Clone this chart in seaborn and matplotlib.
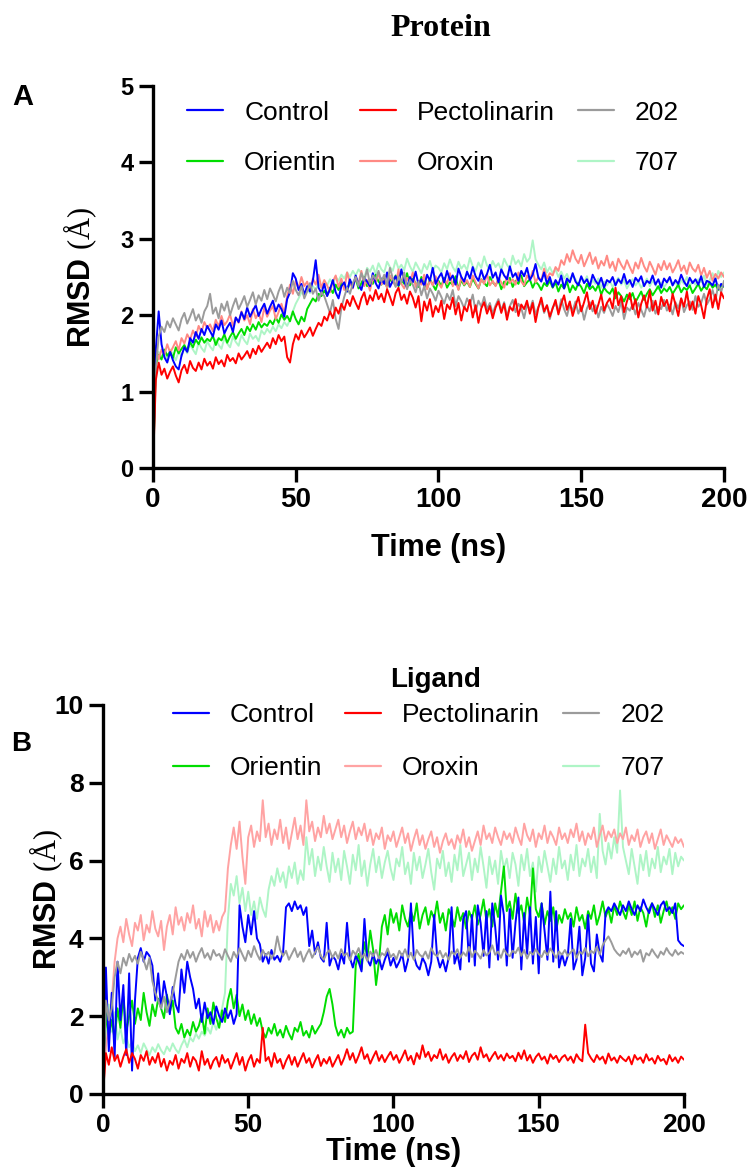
import numpy as np
import pandas as pd
import matplotlib
matplotlib.use("Agg")
import matplotlib.pyplot as plt
from matplotlib.lines import Line2D
from matplotlib import font_manager
import seaborn as sns

sns.set_style("ticks")
plt.rcParams["font.family"] = ["Liberation Sans", "DejaVu Sans"]
plt.rcParams["mathtext.fontset"] = "custom"
plt.rcParams["mathtext.rm"] = "Liberation Serif"
for key in ["text.color", "axes.labelcolor", "xtick.color", "ytick.color", "axes.edgecolor"]:
    plt.rcParams[key] = "black"

# condensed bold for numbers/axis titles if the narrow face is installed
installed = {f.name for f in font_manager.fontManager.ttflist}
HAS_NARROW = "Liberation Sans Narrow" in installed
NUM_FONT = ["Liberation Sans Narrow", "Liberation Sans"] if HAS_NARROW else ["Liberation Sans"]
SCALE = 1.15 if HAS_NARROW else 1.0

# time axis, one frame per ns
time_ns = list(range(0, 201))

# ---------------- Protein RMSD (A) ----------------
prot_control = [
    0, 1.55, 2.05, 1.62, 1.45, 1.38, 1.52, 1.41, 1.33, 1.29, 1.47, 1.58, 1.52, 1.70, 1.64, 1.78, 1.69, 1.82, 1.74, 1.86,
    1.79, 1.72, 1.88, 1.81, 1.93, 1.76, 1.84, 1.90, 1.78, 1.97, 1.91, 2.04, 1.95, 2.10, 1.98, 2.06, 2.13, 1.99, 2.08, 2.15,
    2.02, 2.11, 2.19, 2.05, 2.14, 2.08, 1.98, 2.21, 2.30, 2.55, 2.48, 2.33, 2.41, 2.27, 2.38, 2.31, 2.45, 2.72, 2.36, 2.29,
    2.41, 2.25, 2.34, 2.46, 2.30, 2.22, 2.38, 2.43, 2.31, 2.47, 2.36, 2.52, 2.40, 2.33, 2.49, 2.44, 2.38, 2.55, 2.42, 2.35,
    2.48, 2.41, 2.56, 2.37, 2.45, 2.51, 2.39, 2.60, 2.44, 2.36, 2.50, 2.43, 2.57, 2.40, 2.47, 2.38, 2.53, 2.45, 2.62, 2.41,
    2.49, 2.55, 2.43, 2.58, 2.46, 2.52, 2.40, 2.61, 2.50, 2.44, 2.57, 2.48, 2.63, 2.51, 2.45, 2.59, 2.47, 2.54, 2.66, 2.49,
    2.56, 2.43, 2.60, 2.52, 2.47, 2.64, 2.50, 2.55, 2.45, 2.58, 2.51, 2.62, 2.46, 2.53, 2.67, 2.49, 2.44, 2.56, 2.41, 2.50,
    2.37, 2.46, 2.40, 2.52, 2.35, 2.48, 2.43, 2.55, 2.44, 2.39, 2.51, 2.42, 2.47, 2.38, 2.53, 2.45, 2.40, 2.49, 2.36, 2.46,
    2.43, 2.50, 2.39, 2.47, 2.42, 2.54, 2.41, 2.46, 2.37, 2.49, 2.44, 2.51, 2.38, 2.45, 2.42, 2.52, 2.40, 2.47, 2.36, 2.48,
    2.43, 2.50, 2.39, 2.46, 2.41, 2.53, 2.44, 2.38, 2.49, 2.42, 2.47, 2.40, 2.51, 2.37, 2.45, 2.43, 2.39, 2.48, 2.34, 2.41,
    2.38]
prot_pectolinarin = [
    0, 1.15, 1.38, 1.22, 1.30, 1.17, 1.26, 1.33, 1.21, 1.12, 1.28, 1.35, 1.24, 1.40, 1.31, 1.27, 1.38, 1.29, 1.43, 1.34,
    1.39, 1.30, 1.45, 1.36, 1.41, 1.33, 1.48, 1.40, 1.44, 1.37, 1.50, 1.42, 1.47, 1.53, 1.44, 1.56, 1.49, 1.60, 1.52, 1.58,
    1.64, 1.57, 1.70, 1.62, 1.74, 1.66, 1.72, 1.45, 1.38, 1.62, 1.75, 1.68, 1.80, 1.71, 1.77, 1.84, 1.73, 1.82, 1.90, 1.86,
    1.98, 1.93, 2.05, 1.96, 2.10, 2.02, 2.15, 2.07, 2.20, 2.12, 2.25, 2.16, 2.08, 2.22, 2.30, 2.14, 2.26, 2.19, 2.33, 2.21,
    2.28, 2.17, 2.34, 2.24, 2.13, 2.29, 2.36, 2.20, 2.27, 2.15, 2.31, 2.23, 2.10, 2.25, 1.92, 2.18, 2.06, 2.21, 1.98, 2.12,
    2.04, 2.19, 1.95, 2.14, 2.08, 2.23, 2.01, 2.16, 1.93, 2.11, 2.05, 2.20, 1.97, 2.13, 1.90, 2.09, 2.17, 2.02, 2.12, 1.96,
    2.10, 2.18, 2.03, 2.15, 1.94, 2.11, 2.06, 2.21, 1.99, 2.14, 2.08, 2.19, 2.02, 2.16, 1.91, 2.10, 2.23, 2.05, 2.13, 1.98,
    2.09, 2.20, 2.01, 2.15, 2.26, 2.07, 2.18, 1.99, 2.12, 2.24, 2.05, 2.17, 2.30, 2.08, 2.19, 2.02, 2.14, 2.27, 2.06, 2.16,
    2.22, 2.09, 2.36, 2.13, 2.25, 2.04, 2.18, 2.29, 2.08, 2.21, 1.97, 2.15, 2.26, 2.10, 2.32, 2.06, 2.19, 2.01, 2.24, 2.12,
    2.20, 2.05, 2.28, 2.14, 1.99, 2.22, 2.11, 2.31, 2.07, 2.18, 2.02, 2.25, 2.13, 1.96, 2.21, 2.34, 2.10, 2.27, 2.08, 2.30,
    2.22]
prot_202 = [
    0, 1.30, 1.72, 1.85, 1.78, 1.92, 1.84, 1.96, 1.88, 1.80, 1.95, 2.03, 1.89, 1.98, 2.08, 1.93, 2.01, 1.90, 2.05, 2.12,
    2.28, 2.02, 2.10, 1.96, 2.15, 2.06, 2.18, 2.00, 2.12, 2.22, 2.08, 2.16, 2.25, 2.11, 2.20, 2.30, 2.14, 2.26, 2.19, 2.33,
    2.21, 2.35, 2.27, 2.18, 2.31, 2.40, 2.24, 2.36, 2.29, 2.45, 2.33, 2.26, 2.38, 2.22, 2.31, 2.42, 2.28, 2.35, 2.19, 2.30,
    2.25, 2.14, 2.03, 2.20, 1.95, 1.82, 2.10, 2.24, 2.36, 2.28, 2.42, 2.50, 2.38, 2.55, 2.45, 2.60, 2.41, 2.52, 2.47, 2.58,
    2.44, 2.53, 2.39, 2.62, 2.48, 2.37, 2.51, 2.43, 2.56, 2.34, 2.46, 2.40, 2.30, 2.44, 2.26, 2.38, 2.22, 2.35, 2.28, 2.19,
    2.32, 2.24, 2.15, 2.28, 2.20, 2.33, 2.12, 2.25, 2.18, 2.09, 2.22, 2.14, 2.27, 2.05, 2.19, 2.11, 2.24, 2.08, 2.16, 2.02,
    2.13, 2.21, 2.06, 2.17, 1.98, 2.12, 2.20, 2.04, 2.15, 2.09, 1.96, 2.14, 2.07, 2.19, 2.01, 2.11, 2.18, 2.03, 2.13, 1.95,
    2.10, 2.16, 2.04, 2.21, 2.08, 1.99, 2.14, 2.06, 2.18, 2.02, 2.12, 1.94, 2.09, 2.17, 2.05, 2.13, 1.97, 2.11, 2.03, 2.15,
    2.08, 1.99, 2.12, 2.04, 2.18, 1.95, 2.10, 2.06, 2.14, 2.01, 2.16, 2.07, 1.98, 2.13, 2.05, 2.19, 2.02, 2.11, 2.08, 2.20,
    2.06, 2.14, 2.01, 2.17, 2.09, 2.22, 2.04, 2.13, 2.18, 2.07, 2.25, 2.11, 2.16, 2.28, 2.14, 2.21, 2.33, 2.19, 2.40, 2.30,
    2.45]
prot_orientin = [
    0, 1.35, 1.48, 1.42, 1.55, 1.47, 1.52, 1.44, 1.58, 1.50, 1.56, 1.61, 1.53, 1.65, 1.58, 1.68, 1.62, 1.71, 1.64, 1.69,
    1.66, 1.73, 1.61, 1.70, 1.67, 1.75, 1.64, 1.72, 1.78, 1.69, 1.76, 1.82, 1.74, 1.85, 1.79, 1.88, 1.81, 1.91, 1.84, 1.89,
    1.86, 1.93, 1.88, 1.97, 1.90, 2.01, 1.94, 1.99, 1.92, 2.05, 1.95, 1.88, 1.98, 1.92, 2.08, 2.15, 2.22, 2.18, 2.28, 2.25,
    2.32, 2.26, 2.36, 2.29, 2.40, 2.33, 2.43, 2.37, 2.31, 2.45, 2.39, 2.48, 2.35, 2.42, 2.50, 2.38, 2.46, 2.41, 2.53, 2.44,
    2.40, 2.49, 2.36, 2.47, 2.43, 2.52, 2.38, 2.46, 2.41, 2.55, 2.39, 2.48, 2.42, 2.37, 2.50, 2.44, 2.35, 2.47, 2.40, 2.33,
    2.45, 2.38, 2.49, 2.36, 2.43, 2.40, 2.51, 2.34, 2.46, 2.39, 2.44, 2.37, 2.48, 2.41, 2.35, 2.47, 2.42, 2.38, 2.50, 2.43,
    2.39, 2.46, 2.34, 2.44, 2.40, 2.49, 2.37, 2.45, 2.41, 2.52, 2.38, 2.43, 2.47, 2.36, 2.44, 2.40, 2.33, 2.42, 2.38, 2.45,
    2.36, 2.43, 2.31, 2.40, 2.35, 2.44, 2.30, 2.39, 2.33, 2.42, 2.37, 2.29, 2.41, 2.34, 2.38, 2.32, 2.40, 2.27, 2.36, 2.31,
    2.28, 2.35, 2.22, 2.30, 2.25, 2.18, 2.27, 2.21, 2.29, 2.17, 2.24, 2.31, 2.20, 2.28, 2.34, 2.26, 2.32, 2.38, 2.29, 2.35,
    2.31, 2.37, 2.28, 2.34, 2.40, 2.30, 2.36, 2.33, 2.39, 2.29, 2.35, 2.41, 2.32, 2.38, 2.34, 2.43, 2.36, 2.40, 2.33, 2.39,
    2.37]
prot_oroxin = [
    0, 1.60, 1.42, 1.55, 1.48, 1.62, 1.51, 1.58, 1.66, 1.54, 1.70, 1.63, 1.75, 1.68, 1.80, 1.72, 1.86, 1.78, 1.91, 1.83,
    1.88, 1.79, 1.94, 1.85, 1.99, 1.87, 1.92, 2.01, 1.86, 1.97, 1.90, 2.05, 1.93, 2.00, 1.88, 2.08, 1.96, 2.03, 1.91, 2.10,
    1.98, 2.06, 2.12, 1.95, 2.04, 2.15, 2.02, 2.25, 2.40, 2.28, 2.45, 2.35, 2.50, 2.38, 2.44, 2.32, 2.48, 2.40, 2.53, 2.36,
    2.46, 2.39, 2.30, 2.44, 2.52, 2.37, 2.48, 2.33, 2.56, 2.42, 2.35, 2.50, 2.41, 2.58, 2.38, 2.46, 2.32, 2.49, 2.43, 2.55,
    2.40, 2.47, 2.36, 2.52, 2.44, 2.38, 2.60, 2.41, 2.35, 2.49, 2.43, 2.56, 2.37, 2.45, 2.40, 2.53, 2.34, 2.46, 2.39, 2.51,
    2.42, 2.36, 2.48, 2.41, 2.55, 2.38, 2.44, 2.33, 2.50, 2.40, 2.46, 2.37, 2.52, 2.43, 2.35, 2.47, 2.41, 2.54, 2.39, 2.45,
    2.38, 2.49, 2.43, 2.36, 2.51, 2.42, 2.47, 2.40, 2.56, 2.44, 2.39, 2.52, 2.46, 2.58, 2.43, 2.50, 2.45, 2.61, 2.48, 2.55,
    2.52, 2.63, 2.58, 2.72, 2.66, 2.80, 2.70, 2.85, 2.74, 2.68, 2.79, 2.64, 2.73, 2.82, 2.67, 2.76, 2.61, 2.71, 2.65, 2.78,
    2.62, 2.70, 2.58, 2.74, 2.66, 2.60, 2.72, 2.63, 2.55, 2.69, 2.61, 2.75, 2.64, 2.57, 2.70, 2.62, 2.53, 2.67, 2.59, 2.71,
    2.60, 2.68, 2.56, 2.63, 2.72, 2.58, 2.65, 2.54, 2.69, 2.61, 2.57, 2.66, 2.52, 2.62, 2.49, 2.58, 2.45, 2.54, 2.48, 2.56,
    2.50]
prot_707 = [
    0, 1.40, 1.52, 1.45, 1.50, 1.43, 1.55, 1.48, 1.41, 1.53, 1.46, 1.58, 1.50, 1.62, 1.55, 1.49, 1.64, 1.57, 1.52, 1.66,
    1.59, 1.54, 1.68, 1.61, 1.56, 1.70, 1.63, 1.58, 1.72, 1.65, 1.60, 1.74, 1.67, 1.62, 1.76, 1.69, 1.73, 1.66, 1.80, 1.75,
    1.82, 1.77, 1.85, 1.79, 1.88, 1.83, 1.91, 1.86, 1.94, 2.05, 2.15, 2.22, 2.30, 2.26, 2.35, 2.29, 2.38, 2.33, 2.42, 2.36,
    2.44, 2.39, 2.47, 2.41, 2.50, 2.45, 2.53, 2.48, 2.56, 2.50, 2.58, 2.52, 2.60, 2.55, 2.49, 2.62, 2.57, 2.65, 2.54, 2.68,
    2.60, 2.56, 2.70, 2.63, 2.58, 2.72, 2.61, 2.66, 2.59, 2.74, 2.64, 2.57, 2.69, 2.62, 2.55, 2.67, 2.60, 2.71, 2.58, 2.65,
    2.62, 2.56, 2.68, 2.60, 2.73, 2.63, 2.57, 2.70, 2.61, 2.66, 2.59, 2.75, 2.64, 2.58, 2.69, 2.62, 2.77, 2.65, 2.60, 2.71,
    2.63, 2.68, 2.59, 2.74, 2.66, 2.61, 2.78, 2.67, 2.72, 2.64, 2.80, 2.70, 2.75, 2.98, 2.73, 2.66, 2.60, 2.69, 2.56, 2.63,
    2.55, 2.60, 2.50, 2.57, 2.48, 2.54, 2.45, 2.52, 2.47, 2.40, 2.49, 2.43, 2.51, 2.38, 2.46, 2.41, 2.48, 2.36, 2.44, 2.39,
    2.45, 2.37, 2.43, 2.49, 2.40, 2.46, 2.35, 2.42, 2.47, 2.39, 2.44, 2.36, 2.41, 2.48, 2.38, 2.45, 2.40, 2.34, 2.43, 2.37,
    2.42, 2.48, 2.39, 2.44, 2.36, 2.46, 2.41, 2.50, 2.38, 2.45, 2.40, 2.47, 2.43, 2.52, 2.39, 2.46, 2.55, 2.44, 2.58, 2.50,
    2.56]

# ---------------- Ligand RMSD (B) ----------------
lig_control = [
    0, 3.25, 1.10, 2.60, 0.95, 3.40, 1.90, 2.80, 1.00, 3.10, 0.60, 2.40, 3.50, 3.75, 3.40, 3.65, 3.55, 3.30, 2.40, 3.10,
    2.20, 2.90, 2.50, 2.05, 2.75, 2.30, 2.10, 3.20, 2.60, 3.40, 3.00, 2.70, 2.20, 2.45, 1.85, 2.35, 1.95, 2.10, 1.80, 2.25,
    2.00, 1.85, 2.20, 1.95, 2.15, 1.80, 2.05, 4.85, 4.30, 3.90, 4.60, 4.10, 4.70, 4.00, 3.85, 3.40, 3.60, 3.35, 3.70, 3.45,
    3.55, 3.40, 3.65, 4.80, 4.90, 4.70, 4.95, 4.75, 4.85, 4.60, 4.80, 3.80, 4.20, 3.60, 3.90, 3.50, 3.40, 4.40, 3.30, 3.55,
    3.45, 3.20, 3.60, 3.35, 4.40, 3.50, 3.25, 3.55, 3.40, 3.15, 4.50, 3.45, 3.30, 3.60, 3.35, 3.50, 3.20, 3.45, 3.65, 3.30,
    3.50, 3.25, 3.40, 3.60, 3.15, 3.45, 4.90, 3.55, 3.30, 3.20, 3.50, 3.35, 3.05, 3.40, 4.60, 3.55, 3.25, 3.45, 3.15, 3.50,
    4.80, 3.35, 3.60, 3.20, 4.50, 4.70, 3.40, 4.60, 3.30, 4.85, 4.40, 3.55, 4.70, 3.25, 4.90, 4.30, 3.45, 5.10, 4.60, 3.30,
    4.75, 3.50, 4.40, 5.05, 3.20, 4.65, 3.60, 4.80, 3.35, 4.55, 3.10, 4.90, 4.20, 3.45, 5.20, 3.40, 4.70, 3.25, 3.60, 3.30,
    3.55, 4.50, 3.20, 3.45, 4.30, 3.05, 3.50, 4.60, 3.35, 3.15, 4.10, 3.60, 3.40, 4.65, 4.80, 4.70, 4.90, 4.75, 4.60, 4.85,
    4.70, 4.95, 4.75, 4.60, 4.85, 4.70, 5.00, 4.80, 4.65, 4.90, 4.75, 4.60, 4.85, 4.95, 4.70, 4.80, 4.65, 4.90, 3.95, 3.85,
    3.80]
lig_pectolinarin = [
    0, 1.05, 0.75, 1.20, 0.85, 1.00, 0.70, 0.95, 1.15, 0.80, 1.05, 0.90, 0.65, 1.00, 0.85, 1.10, 0.75, 0.95, 0.80, 1.05,
    0.70, 0.90, 0.60, 0.85, 0.75, 1.00, 0.65, 0.90, 0.80, 1.05, 0.70, 0.95, 0.85, 0.60, 1.10, 0.75, 0.90, 0.65, 0.85, 0.95,
    0.70, 1.00, 0.80, 0.90, 0.65, 0.85, 1.05, 0.75, 0.95, 0.60, 0.85, 1.00, 0.70, 0.90, 0.80, 1.70, 0.85, 0.95, 0.70, 1.05,
    0.80, 0.90, 0.65, 0.85, 1.00, 0.75, 0.95, 0.70, 0.88, 1.05, 0.80, 0.92, 0.68, 0.85, 1.00, 0.72, 0.90, 0.78, 0.95, 0.70,
    0.85, 1.00, 0.75, 0.92, 1.15, 0.88, 1.05, 0.80, 0.98, 1.20, 0.90, 1.02, 0.78, 0.95, 1.10, 0.85, 1.00, 0.82, 0.96, 1.08,
    0.88, 1.00, 0.80, 0.95, 1.12, 0.86, 0.98, 0.76, 1.05, 0.90, 1.25, 0.95, 1.08, 0.85, 1.00, 0.92, 1.15, 0.88, 1.02, 0.80,
    0.95, 1.05, 0.85, 1.00, 0.90, 1.10, 0.82, 0.98, 1.06, 0.88, 1.20, 0.94, 1.02, 0.84, 0.97, 1.08, 0.90, 1.00, 0.86, 1.04,
    0.92, 0.98, 0.84, 1.06, 0.90, 1.12, 0.86, 1.00, 0.80, 0.95, 1.04, 0.88, 0.96, 0.78, 1.02, 0.90, 0.98, 0.82, 0.94, 1.00,
    0.86, 0.96, 0.80, 1.02, 0.90, 0.84, 1.78, 1.05, 0.92, 0.82, 1.00, 0.88, 0.96, 0.78, 1.04, 0.86, 0.94, 0.80, 0.98, 0.90,
    0.84, 0.96, 0.76, 1.00, 0.88, 0.94, 0.80, 1.02, 0.86, 0.92, 0.78, 0.98, 0.85, 0.90, 0.76, 1.00, 0.84, 0.94, 0.80, 0.96,
    0.88]
lig_202 = [
    0, 2.40, 1.90, 2.20, 3.00, 3.40, 3.10, 3.50, 3.30, 3.60, 3.40, 3.55, 3.35, 3.65, 3.45, 3.20, 3.50, 2.90, 2.60, 2.40,
    2.20, 2.50, 2.10, 2.35, 2.60, 3.00, 3.40, 3.60, 3.45, 3.70, 3.50, 3.65, 3.40, 3.60, 3.75, 3.50, 3.62, 3.45, 3.70, 3.55,
    3.60, 3.45, 3.72, 3.55, 3.40, 3.65, 3.50, 3.75, 3.58, 3.42, 3.68, 3.52, 3.80, 3.60, 3.45, 3.70, 3.55, 3.65, 3.48, 3.62,
    4.05, 3.70, 3.55, 3.68, 3.45, 3.60, 3.75, 3.52, 3.66, 3.40, 3.58, 3.72, 3.50, 3.64, 3.78, 3.55, 3.45, 3.62, 3.70, 3.50,
    3.65, 3.48, 3.72, 3.56, 3.62, 3.44, 3.68, 3.58, 3.75, 3.50, 3.60, 3.42, 3.66, 3.54, 3.70, 3.48, 3.62, 3.56, 3.74, 3.52,
    3.60, 3.46, 3.68, 3.55, 3.72, 3.50, 3.63, 3.45, 3.70, 3.58, 3.52, 3.66, 3.48, 3.75, 3.60, 3.54, 3.68, 3.50, 3.62, 3.45,
    3.66, 3.58, 3.72, 3.50, 3.64, 3.55, 3.78, 3.52, 3.68, 3.60, 3.48, 3.70, 3.56, 3.63, 3.82, 3.58, 3.66, 3.50, 3.72, 3.60,
    3.54, 3.68, 3.62, 3.76, 3.55, 3.70, 3.48, 3.65, 3.58, 3.72, 3.60, 3.52, 3.68, 3.57, 3.74, 3.62, 3.50, 3.66, 3.58, 3.70,
    3.55, 3.64, 3.72, 3.50, 3.66, 3.60, 3.75, 3.54, 3.68, 3.62, 3.78, 3.58, 3.82, 3.95, 4.05, 3.90, 3.72, 3.62, 3.55, 3.68,
    3.60, 3.74, 3.52, 3.66, 3.58, 3.70, 3.40, 3.62, 3.56, 3.72, 3.60, 3.50, 3.66, 3.58, 3.75, 3.62, 3.55, 3.70, 3.58, 3.65,
    3.60]
lig_orientin = [
    0, 2.10, 1.50, 1.90, 1.40, 2.20, 1.70, 2.50, 1.60, 2.00, 2.40, 1.80, 2.20, 1.90, 2.60, 2.10, 1.75, 2.30, 2.00, 2.45,
    2.20, 1.95, 2.55, 2.10, 2.40, 1.70, 1.55, 1.80, 1.45, 1.65, 1.50, 1.85, 1.60, 1.75, 2.05, 1.55, 2.20, 1.80, 2.35, 1.95,
    1.70, 2.15, 1.85, 2.40, 2.70, 2.20, 2.55, 2.00, 2.30, 1.90, 2.15, 1.80, 2.05, 1.75, 1.95, 1.60, 1.45, 1.70, 1.55, 1.80,
    1.50, 1.65, 1.45, 1.75, 1.55, 1.40, 1.70, 1.60, 1.85, 1.50, 1.62, 1.45, 1.75, 1.55, 1.68, 1.80, 2.10, 2.50, 2.70, 2.30,
    1.75, 1.50, 1.65, 1.45, 1.70, 1.55, 1.60, 3.30, 3.60, 3.20, 3.90, 3.50, 4.20, 3.70, 2.80, 3.40, 4.30, 4.60, 4.10, 4.75,
    4.40, 4.65, 4.20, 4.85, 4.50, 4.30, 4.70, 4.45, 4.90, 4.25, 4.60, 4.80, 4.35, 4.70, 4.50, 4.95, 4.40, 4.65, 4.20, 4.75,
    4.55, 4.30, 4.80, 4.45, 4.65, 4.25, 4.70, 4.50, 4.85, 4.35, 4.60, 5.00, 4.45, 4.75, 4.30, 4.90, 4.55, 5.20, 5.85, 4.70,
    4.95, 4.50, 5.15, 4.65, 4.85, 4.40, 5.05, 4.60, 5.80, 4.75, 4.55, 4.90, 4.35, 4.70, 4.45, 4.80, 4.20, 4.60, 4.40, 4.75,
    4.50, 4.65, 4.30, 4.80, 4.45, 4.60, 4.25, 4.70, 4.50, 4.85, 4.35, 4.60, 4.95, 4.55, 4.75, 4.40, 4.85, 4.60, 4.95, 4.70,
    4.50, 4.85, 4.60, 4.95, 4.45, 4.80, 4.65, 4.30, 4.75, 4.90, 4.55, 4.85, 4.40, 4.70, 4.95, 4.60, 4.80, 4.50, 4.90, 4.75,
    4.85]
lig_oroxin = [
    0, 1.20, 1.80, 2.40, 3.40, 4.00, 4.30, 3.90, 4.50, 4.10, 3.80, 4.40, 4.20, 4.60, 3.95, 4.35, 4.15, 4.70, 4.25, 4.05,
    4.45, 3.70, 4.30, 4.60, 4.10, 4.80, 4.35, 4.55, 4.20, 4.65, 4.40, 4.85, 4.25, 4.50, 4.05, 4.70, 4.30, 4.60, 4.15, 4.45,
    4.20, 4.55, 4.70, 5.80, 6.40, 6.85, 6.30, 7.00, 6.10, 5.40, 6.60, 6.90, 6.35, 6.75, 6.50, 7.55, 6.60, 6.95, 6.40, 6.80,
    6.55, 7.05, 6.45, 6.85, 6.30, 6.70, 7.10, 6.55, 6.90, 6.40, 7.55, 6.75, 7.00, 6.50, 6.85, 6.60, 7.15, 6.70, 6.95, 6.55,
    6.80, 7.05, 6.60, 6.90, 6.45, 6.75, 7.00, 6.55, 6.85, 6.65, 6.95, 6.50, 6.80, 6.40, 6.70, 6.55, 6.85, 6.30, 6.65, 6.50,
    6.75, 6.35, 6.60, 6.85, 6.45, 6.70, 6.25, 6.55, 6.80, 6.40, 6.65, 6.30, 6.55, 6.75, 6.35, 6.60, 6.20, 6.50, 6.70, 6.40,
    6.55, 6.30, 6.65, 6.45, 6.80, 6.35, 6.60, 6.25, 6.50, 6.75, 6.40, 6.90, 6.55, 6.70, 6.45, 6.85, 6.60, 6.40, 6.75, 6.55,
    6.70, 6.45, 6.85, 6.60, 6.40, 6.95, 6.65, 6.50, 6.80, 6.35, 6.70, 6.55, 6.90, 6.45, 6.75, 6.60, 6.40, 6.85, 6.55, 6.70,
    6.45, 6.80, 6.60, 6.95, 6.50, 6.75, 6.40, 6.70, 6.55, 6.85, 6.35, 6.65, 6.90, 6.50, 6.75, 6.60, 6.80, 6.45, 6.70, 6.55,
    6.85, 6.40, 6.65, 6.50, 6.80, 6.35, 6.60, 6.75, 6.45, 6.70, 6.30, 6.55, 6.80, 6.40, 6.65, 6.50, 6.35, 6.60, 6.45, 6.55,
    6.35]
lig_707 = [
    0, 1.80, 2.30, 1.60, 2.10, 1.40, 1.70, 1.30, 1.50, 1.20, 1.35, 1.10, 1.25, 1.05, 1.30, 1.15, 1.00, 1.20, 1.08, 1.28,
    1.12, 1.02, 1.22, 1.10, 1.30, 1.15, 1.05, 1.25, 1.40, 1.20, 1.45, 1.35, 1.55, 1.42, 1.60, 1.50, 1.70, 1.55, 1.85, 1.65,
    1.90, 2.20, 2.60, 4.50, 5.40, 5.10, 5.60, 4.90, 5.30, 4.70, 5.20, 4.60, 4.95, 4.50, 5.05, 4.75, 4.55, 5.25, 5.60, 5.35,
    5.80, 5.45, 5.70, 5.30, 5.85, 5.55, 5.95, 5.40, 5.75, 5.50, 6.60, 5.90, 6.30, 5.60, 6.10, 5.75, 6.35, 5.85, 5.45, 6.20,
    5.70, 6.05, 5.50, 6.25, 5.85, 5.40, 6.15, 5.75, 6.40, 5.60, 6.00, 5.35, 5.90, 6.30, 5.70, 6.10, 5.55, 5.95, 6.25, 5.80,
    5.50, 6.05, 5.85, 6.35, 5.65, 5.95, 5.40, 6.20, 5.75, 6.10, 5.55, 5.90, 6.30, 5.70, 5.25, 6.05, 5.80, 6.25, 5.60, 5.95,
    5.45, 6.15, 5.75, 6.40, 5.60, 5.90, 6.20, 5.50, 6.05, 5.70, 6.35, 5.85, 5.30, 6.10, 5.65, 6.00, 5.40, 6.25, 5.80, 6.05,
    5.55, 6.20, 5.90, 5.35, 6.15, 5.75, 6.30, 5.60, 5.95, 5.20, 6.10, 5.70, 6.25, 5.85, 5.45, 6.05, 5.65, 6.35, 5.80, 6.00,
    5.50, 6.15, 5.75, 6.40, 5.60, 6.05, 5.85, 6.30, 5.70, 6.10, 5.55, 7.20, 6.25, 5.90, 6.45, 6.05, 6.60, 6.20, 7.80, 6.35,
    6.00, 5.65, 6.30, 5.85, 5.40, 6.15, 5.75, 6.25, 5.60, 6.05, 5.80, 6.35, 5.70, 6.10, 5.90, 6.30, 5.65, 6.20, 5.85, 6.10,
    6.00]

systems = ["Control", "Pectolinarin", "202", "Orientin", "Oroxin", "707"]
protein = dict(zip(systems, [prot_control, prot_pectolinarin, prot_202,
                             prot_orientin, prot_oroxin, prot_707]))
ligand = dict(zip(systems, [lig_control, lig_pectolinarin, lig_202,
                            lig_orientin, lig_oroxin, lig_707]))

colors_a = {"Control": "#0000ff", "Pectolinarin": "#ff0000", "202": "#9b9b9b",
            "Orientin": "#00dd00", "Oroxin": "#ff8a84", "707": "#aef5c6"}
colors_b = dict(colors_a, Oroxin="#ffa3a3")

draw_order = ["707", "Orientin", "Oroxin", "Control", "202", "Pectolinarin"]
legend_order = ["Control", "Orientin", "Pectolinarin", "Oroxin", "202", "707"]


def long_form(d):
    frames = []
    for name, vals in d.items():
        assert len(vals) == len(time_ns), name
        frames.append(pd.DataFrame({"time": time_ns, "rmsd": vals, "system": name}))
    return pd.concat(frames, ignore_index=True)


def style_axis(ax, ymax, ystep, xtick_size, ytick_size):
    ax.set_xlim(0, 200)
    ax.set_ylim(0, ymax)
    ax.set_xticks([0, 50, 100, 150, 200])
    ax.set_yticks(np.arange(0, ymax + 0.1, ystep))
    ax.spines[["top", "right"]].set_visible(False)
    for s in ["left", "bottom"]:
        ax.spines[s].set_linewidth(2.4)
        ax.spines[s].set_capstyle("projecting")
    ax.tick_params(direction="out", length=10, width=2.4, pad=4)
    for lbl in ax.get_xticklabels():
        lbl.set(family=NUM_FONT, fontweight="bold", fontsize=xtick_size * SCALE)
    for lbl in ax.get_yticklabels():
        lbl.set(family=NUM_FONT, fontweight="bold", fontsize=ytick_size * SCALE)


def draw_panel(ax, d, colors):
    df = long_form(d)
    sns.lineplot(data=df, x="time", y="rmsd", hue="system", hue_order=draw_order,
                 palette=colors, estimator=None, sort=False, lw=1.4, legend=False, ax=ax)
    return [Line2D([], [], color=colors[s], lw=1.6) for s in legend_order]


def axis_titles(ax, xpos, ypos):
    ax.set_xlabel("Time (ns)", family=NUM_FONT, fontsize=22 * SCALE, fontweight="bold")
    ax.set_ylabel(r"RMSD $\mathrm{(Å)}$", family=NUM_FONT, fontsize=22 * SCALE,
                  fontweight="bold")
    ax.xaxis.set_label_coords(0.5, xpos)
    ax.yaxis.set_label_coords(ypos, 0.5)


fig = plt.figure(figsize=(7.48, 11.72), dpi=100)
ax_a = fig.add_axes([0.2045, 0.6007, 0.7634, 0.3259])
ax_b = fig.add_axes([0.1377, 0.0666, 0.7767, 0.3319])

# panel A
h = draw_panel(ax_a, protein, colors_a)
style_axis(ax_a, 5, 1, 20, 17)
ax_a.legend(h, legend_order, ncol=3, loc="upper left", bbox_to_anchor=(0.06, 0.962),
            frameon=False, fontsize=19, handlelength=1.36, handletextpad=0.8,
            columnspacing=0.87, labelspacing=1.0, borderpad=0, borderaxespad=0)
axis_titles(ax_a, -0.17, -0.095)

# panel B
h = draw_panel(ax_b, ligand, colors_b)
style_axis(ax_b, 10, 2, 19, 19)
ax_b.legend(h, legend_order, ncol=3, loc="upper left", bbox_to_anchor=(0.12, 1.005),
            frameon=False, fontsize=19, handlelength=1.36, handletextpad=0.8,
            columnspacing=0.87, labelspacing=1.1, borderpad=0, borderaxespad=0)
axis_titles(ax_b, -0.11, -0.065)

# titles and panel letters
fig.text(0.589, 0.976, "Protein", family=["Liberation Serif", "DejaVu Serif"],
         fontsize=23, fontweight="bold", ha="center", va="center")
fig.text(0.582, 0.4138, "Ligand", fontsize=20, fontweight="bold", ha="center", va="baseline")
fig.text(0.031, 0.917, "A", fontsize=21, fontweight="bold", ha="center", va="center")
fig.text(0.028, 0.365, "B", fontsize=20, fontweight="bold", ha="center", va="center")

fig.savefig("out.png", dpi=100)
